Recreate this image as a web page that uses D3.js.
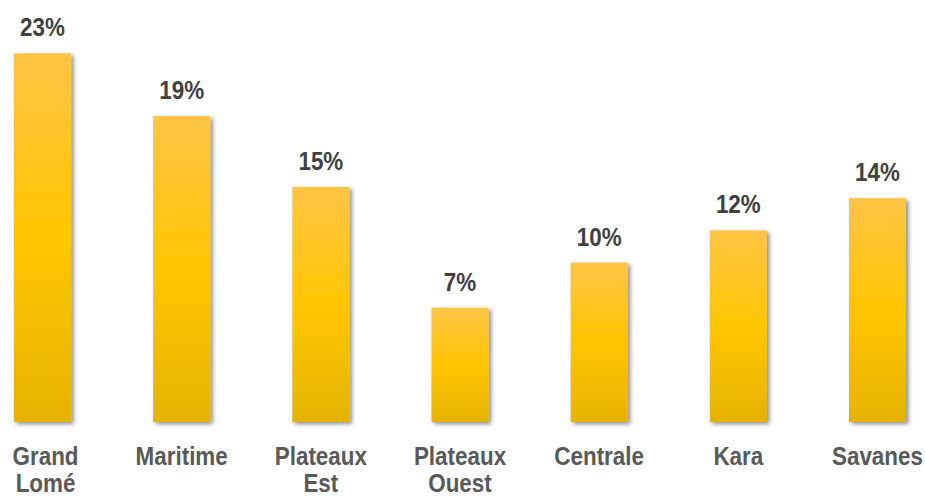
<!DOCTYPE html>
<html><head><meta charset="utf-8">
<script src="https://cdn.jsdelivr.net/npm/d3@7"></script>
<style>
html,body{margin:0;padding:0;background:#fff;}
svg text{font-family:"Liberation Sans",Arial,sans-serif;font-weight:bold;}
</style></head>
<body>
<svg id="chart" width="925" height="498"></svg>
<script>
const categories = [["Grand","Lomé"],["Maritime"],["Plateaux","Est"],["Plateaux","Ouest"],["Centrale"],["Kara"],["Savanes"]];
const values = [22.9, 19.0, 14.6, 7.1, 9.9, 11.9, 13.9];

const svg = d3.select("#chart");
const defs = svg.append("defs");
const grad = defs.append("linearGradient").attr("id","barGrad").attr("x1",0).attr("y1",0).attr("x2",0).attr("y2",1);
grad.append("stop").attr("offset","0%").attr("stop-color","#FFC445");
grad.append("stop").attr("offset","50%").attr("stop-color","#FFC600");
grad.append("stop").attr("offset","100%").attr("stop-color","#E5B300");
const f = defs.append("filter").attr("id","shadow").attr("x","-20%").attr("y","-10%").attr("width","150%").attr("height","130%");
f.append("feDropShadow").attr("dx",2.5).attr("dy",2).attr("stdDeviation",2).attr("flood-color","#000").attr("flood-opacity",0.45);

const keys = categories.map(c => c.join(" "));
const x = d3.scaleBand().domain(keys).range([14, 906]).paddingInner(0.59).paddingOuter(0);
const y = d3.scaleLinear().domain([0, 23]).range([422, 422 - 23*16.1]);

const data = keys.map((k,i) => ({k, lines: categories[i], v: values[i]}));
const SX = 0.84;
const cx = d => x(d.k) + x.bandwidth()/2 + (d.k==="Grand Lomé"?3:0);

svg.append("g").selectAll("rect").data(data).join("rect")
  .attr("x", d => x(d.k)).attr("y", d => y(d.v))
  .attr("width", x.bandwidth()).attr("height", d => y(0) - y(d.v))
  .attr("fill","url(#barGrad)").attr("filter","url(#shadow)");

const fmt = d3.format(".0f");
svg.append("g").selectAll("text").data(data).join("text")
  .attr("transform", d => `translate(${x(d.k) + x.bandwidth()/2},${y(d.v) - 17}) scale(${SX},1)`)
  .attr("text-anchor","middle").attr("font-size","26.7px").attr("fill","#404040")
  .text(d => fmt(d.v) + "%");

const lab = svg.append("g").selectAll("text").data(data).join("text")
  .attr("transform", d => `translate(${cx(d)},465) scale(${SX},1)`)
  .attr("text-anchor","middle").attr("font-size","26.7px").attr("fill","#595959");
lab.selectAll("tspan").data(d => d.lines).join("tspan")
  .attr("x", 0).attr("dy", (t,i) => i ? 27 : 0).text(t => t);
</script>
</body></html>
